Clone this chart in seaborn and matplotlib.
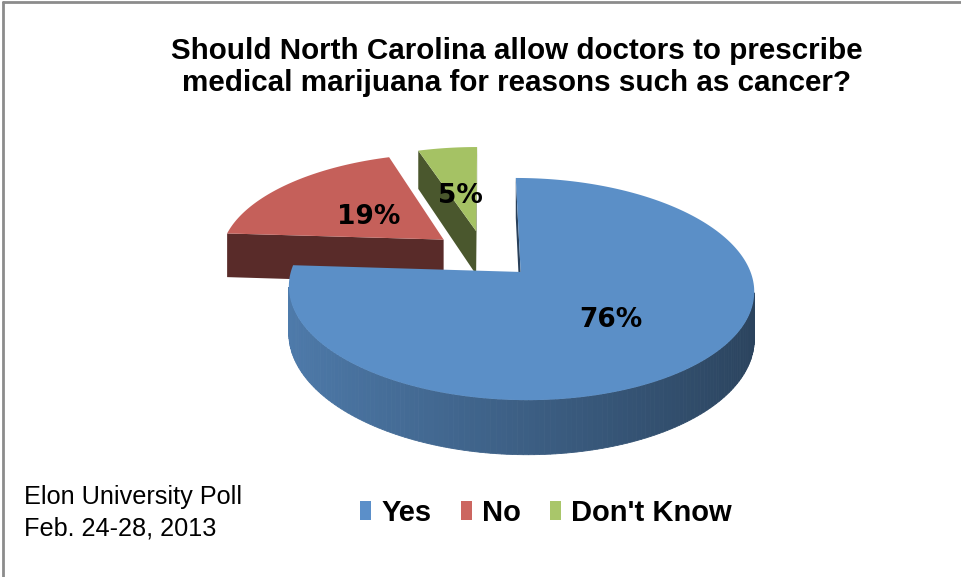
import numpy as np
import matplotlib
matplotlib.use("Agg")
import matplotlib.pyplot as plt
import seaborn as sns
from matplotlib.patches import Polygon, Patch
from matplotlib.lines import Line2D
from matplotlib import colors as mcolors

# ---- data ----
categories = ["Yes", "No", "Don't Know"]
values = [76, 19, 5]
value_labels = ["76%", "19%", "5%"]
top_colors = ["#5b8fc7", "#c5605a", "#a5c264"]
legend_colors = ["#5b8fc9", "#cc6660", "#a9c66a"]
title_text = "Should North Carolina allow doctors to prescribe\nmedical marijuana for reasons such as cancer?"
note_text = "Elon University Poll\nFeb. 24-28, 2013"

# ---- style / layout ----
sns.set_theme(style="white")
plt.rcParams['font.family'] = ['DejaVu Sans']
plt.rcParams['text.color'] = 'black'
NARROW = ['Liberation Sans Narrow', 'Liberation Sans', 'DejaVu Sans']

fig = plt.figure(figsize=(9.62, 5.77), dpi=100)
ax = fig.add_axes([0, 0, 1, 1])
ax.set_xlim(0, 962)
ax.set_ylim(577, 0)
ax.axis('off')

CX, CY, A, B, K, DEPTH, EXPLODE = 484, 254, 224, 103, 0.15, 45, 0.233
LABEL_R = [0.54, 0.44, 0.42]
cam = np.array([0.0, -1.0 / K])


def proj(u, v, d):
    w = 1 + K * v
    return CX + A * u / w, CY + (-B * v + DEPTH * d) / w


def shade(color, f):
    r, g, b = mcolors.to_rgb(color)
    return (r * f, g * f, b * f)


total = float(sum(values))
starts = np.concatenate([[0], np.cumsum(values)[:-1]]) / total * 360
spans = np.array(values) / total * 360

slices = []
for i in range(len(values)):
    t1 = starts[i]
    t2 = t1 + spans[i]
    mid = np.radians((t1 + t2) / 2)
    ou, ov = EXPLODE * np.sin(mid), EXPLODE * np.cos(mid)
    slices.append((i, t1, t2, mid, ou, ov))

# far slices first
for i, t1, t2, mid, ou, ov in sorted(slices, key=lambda s: -s[5]):
    col = top_colors[i]
    apex = np.array([ou, ov])
    # cut faces
    for th, sign in ((t1, -1), (t2, 1)):
        r = np.radians(th)
        n = np.array([np.cos(r), -np.sin(r)]) * sign
        rim = apex + np.array([np.sin(r), np.cos(r)])
        mp = (apex + rim) / 2
        if np.dot(cam - mp, n) > 0:
            pts = [proj(*apex, 0), proj(*rim, 0), proj(*rim, 1), proj(*apex, 1)]
            ax.add_patch(Polygon(pts, closed=True, facecolor=shade(col, 0.45),
                                 edgecolor='none', zorder=2))
    # outer wall
    ths = np.linspace(t1, t2, 240)
    for a0, a1 in zip(ths[:-1], ths[1:]):
        rm = np.radians((a0 + a1) / 2)
        n = np.array([np.sin(rm), np.cos(rm)])
        p = apex + n
        if np.dot(cam - p, n) > 0:
            r0, r1 = np.radians(a0), np.radians(a1)
            q0 = apex + np.array([np.sin(r0), np.cos(r0)])
            q1 = apex + np.array([np.sin(r1), np.cos(r1)])
            f = 0.66 - 0.2 * np.sin(rm)
            pts = [proj(*q0, 0), proj(*q1, 0), proj(*q1, 1), proj(*q0, 1)]
            ax.add_patch(Polygon(pts, closed=True, facecolor=shade(col, f),
                                 edgecolor=shade(col, f), linewidth=0.6, zorder=2))
    # top face
    rr = np.radians(np.linspace(t1, t2, 300))
    pts = [proj(*apex, 0)] + [proj(ou + np.sin(t), ov + np.cos(t), 0) for t in rr]
    ax.add_patch(Polygon(pts, closed=True, facecolor=col, edgecolor='none', zorder=3))
    # label
    lr = LABEL_R[i]
    lx, ly = proj(ou + lr * np.sin(mid), ov + lr * np.cos(mid), 0)
    ax.text(lx - 3, ly + 3, value_labels[i], ha='center', va='center', fontsize=19,
            fontweight='bold', color='black', zorder=5)

# title
ax.text(517, 67, title_text, ha='center', va='center', fontsize=21.3,
        fontweight='bold', family=NARROW, linespacing=1.2, color='black')

# note
ax.text(24, 513, note_text, ha='left', va='center', fontsize=18.2,
        family=NARROW, linespacing=1.42, color='black')

# legend
handles = [Patch(facecolor=c, edgecolor='none') for c in legend_colors]
leg = fig.legend(handles, categories, loc='center',
                 bbox_to_anchor=(546 / 962, 1 - 513 / 577), ncol=3, frameon=False,
                 handlelength=0.38, handleheight=0.6, handletextpad=0.35,
                 columnspacing=1.0, labelcolor='black',
                 prop={'family': NARROW, 'weight': 'bold', 'size': 21})

# chart border (top and left)
ax.add_line(Line2D([3, 962], [2, 2], color='#8c8c8c', linewidth=2, zorder=10))
ax.add_line(Line2D([3, 3], [2, 577], color='#8c8c8c', linewidth=2, zorder=10))

fig.savefig("out.png", dpi=100)
